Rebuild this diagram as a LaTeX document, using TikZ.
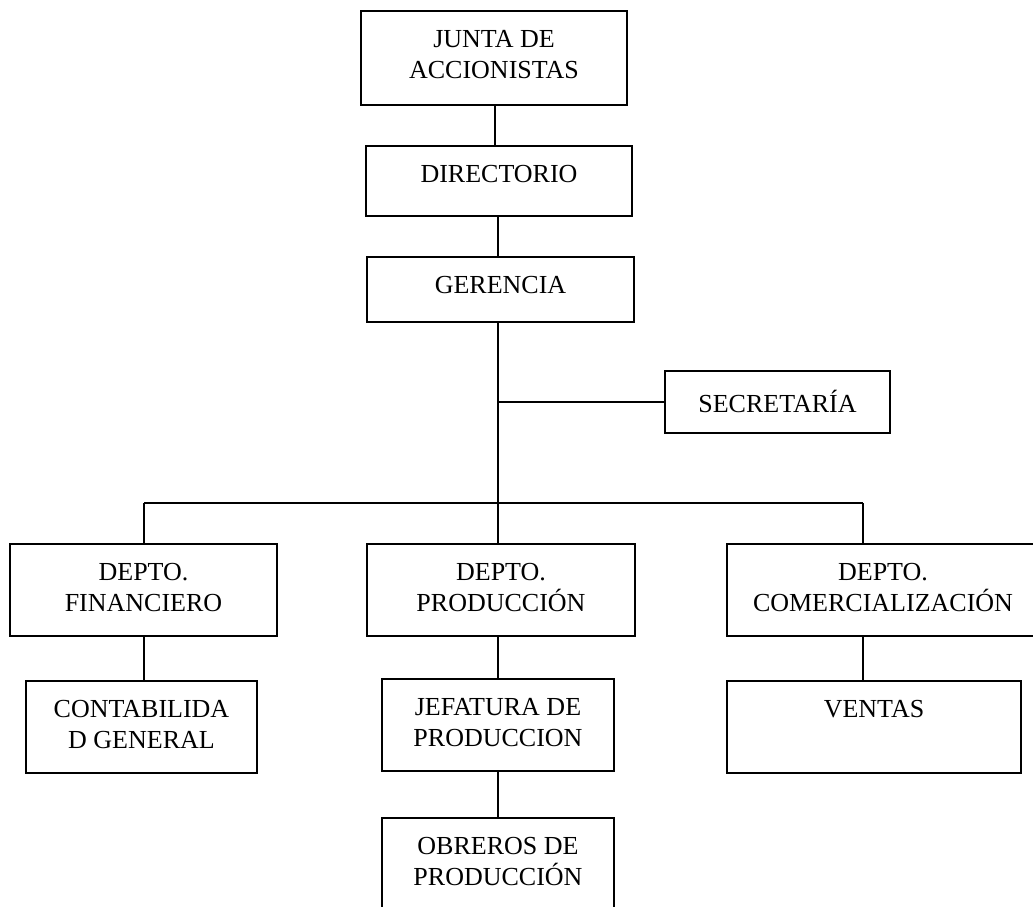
\documentclass[tikz,border=0pt]{standalone}
\usepackage{fontspec}
\setmainfont{Liberation Serif}
\begin{document}
\begin{tikzpicture}[x=1pt,y=-1pt,
  box/.style={draw,line width=2pt,outer sep=0pt,inner sep=0pt,minimum width=#1},
  lbl/.style={inner sep=0pt,align=center,font=\fontsize{26}{30.7}\selectfont},
  conn/.style={line width=2pt}]
\useasboundingbox (0,0) rectangle (1033,907);
\clip (0,0) rectangle (1033,907);
\newcommand{\orgbox}[6]{%
  \node[box={(#4)-(#2)},minimum height={(#5)-(#3)},anchor=north west,
        label={[lbl,label distance=0pt,anchor=north,yshift=-19pt]north:#6}] (#1) at (#2,#3) {};}
\orgbox{junta}{361}{11}{627}{105}{JUNTA DE\\ACCIONISTAS}
\draw[line width=2.8pt] (junta.north west) rectangle (junta.south east);
\orgbox{dir}{366}{146}{632}{216}{DIRECTORIO}
\orgbox{ger}{367}{257}{634}{322}{GERENCIA}
\orgbox{sec}{665}{371}{890}{433}{SECRETARÍA}
\orgbox{fin}{10}{544}{277}{636}{DEPTO.\\FINANCIERO}
\orgbox{prod}{367}{544}{635}{636}{DEPTO.\\PRODUCCIÓN}
\orgbox{com}{727}{544}{1039}{636}{DEPTO.\\COMERCIALIZACIÓN}
\orgbox{cont}{26}{681}{257}{773}{CONTABILIDA\\D GENERAL}
\orgbox{jef}{382}{679}{614}{771}{JEFATURA DE\\PRODUCCION}
\orgbox{ven}{727}{681}{1021}{773}{VENTAS}
\orgbox{obr}{382}{818}{614}{910}{OBREROS DE\\PRODUCCIÓN}
\coordinate (ta) at (495,0);
\coordinate (tb) at (498,0);
\coordinate (lb) at (144,503);
\coordinate (rb) at (863,503);
\coordinate (mb) at (498,503);
\draw[conn] (ta |- junta.south) -- (ta |- dir.north);
\draw[conn] (tb |- dir.south) -- (tb |- ger.north);
\draw[conn] (tb |- ger.south) -- (tb |- prod.north);
\draw[conn] (sec.west) -- (sec.west -| tb);
\draw[conn] (lb) -- (rb);
\draw[conn] (lb) -- (lb |- fin.north);
\draw[conn] (rb) -- (rb |- com.north);
\draw[conn] (lb |- fin.south) -- (lb |- cont.north);
\draw[conn] (tb |- prod.south) -- (tb |- jef.north);
\draw[conn] (rb |- com.south) -- (rb |- ven.north);
\draw[conn] (tb |- jef.south) -- (tb |- obr.north);
\end{tikzpicture}
\end{document}
